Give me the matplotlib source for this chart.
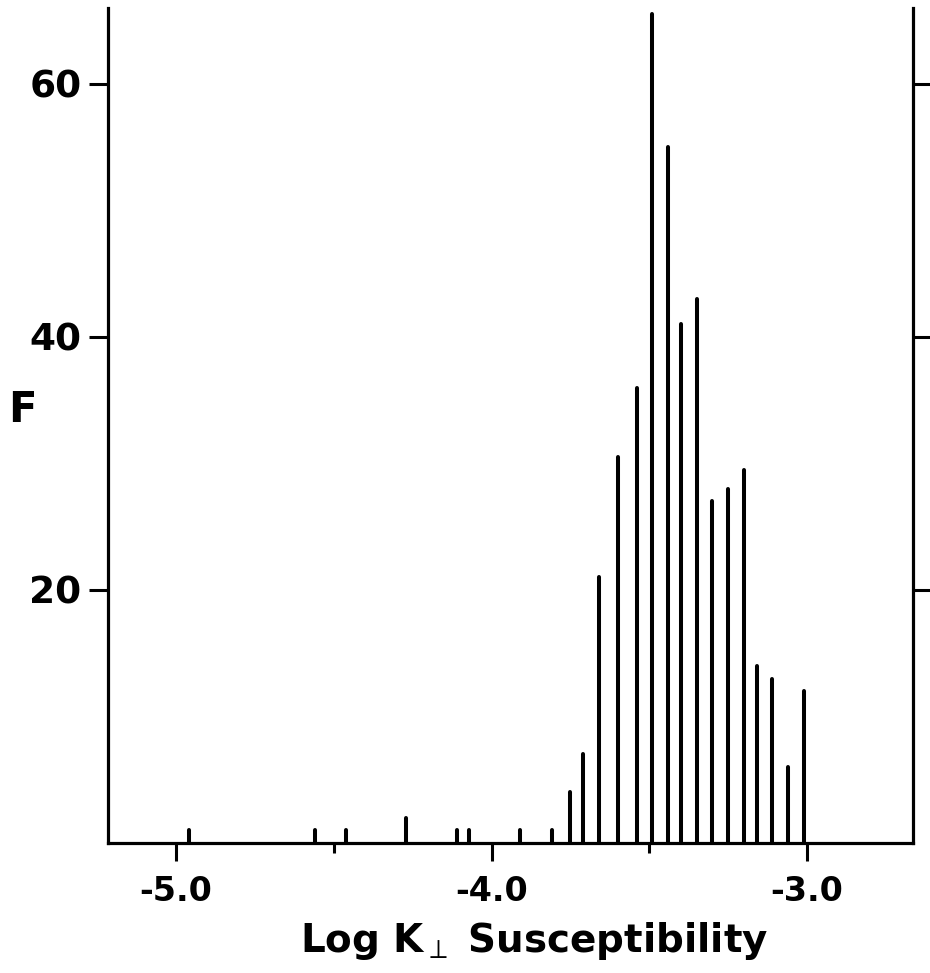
import matplotlib
matplotlib.use("Agg")
import matplotlib.pyplot as plt

# ---- data ----
log_k = [-4.96, -4.56, -4.46, -4.27, -4.11, -4.07, -3.91, -3.81, -3.75, -3.71,
         -3.66, -3.60, -3.54, -3.49, -3.44, -3.40, -3.35, -3.30, -3.25, -3.20,
         -3.16, -3.11, -3.06, -3.01]
freq = [1, 1, 1, 2, 1, 1, 1, 1, 4, 7,
        21, 30.5, 36, 65.5, 55, 41, 43, 27, 28, 29.5,
        14, 13, 6, 12]
x_major = [-5.0, -4.0, -3.0]
x_major_labels = ["-5.0", "-4.0", "-3.0"]
x_minor = [-4.5, -3.5]
y_ticks = [20, 40, 60]
y_tick_labels = ["20", "40", "60"]

plt.rcParams['font.family'] = ['DejaVu Sans']
plt.rcParams['mathtext.fontset'] = 'dejavusans'

fig = plt.figure(figsize=(9.3, 9.73), dpi=100)
ax = fig.add_axes([108/930, 130/973, (913-108)/930, (843-8)/973])

lc = ax.vlines(log_k, 0, freq, colors='black', linewidth=2.9, zorder=2)
lc.set_capstyle('round')

ax.set_xlim(-5.216, -2.664)
ax.set_ylim(0, 66)

for s in ['left', 'right', 'bottom']:
    ax.spines[s].set_linewidth(2.3)
    ax.spines[s].set_color('black')
    ax.spines[s].set_zorder(3)
ax.spines['top'].set_visible(False)

ax.set_xticks(x_major)
ax.set_xticklabels(x_major_labels, fontsize=24, fontweight='bold')
ax.set_xticks(x_minor, minor=True)
ax.tick_params(axis='x', which='major', direction='out', length=13, width=2.2, pad=10)
ax.tick_params(axis='x', which='minor', direction='out', length=7, width=2.2)

ax.set_yticks(y_ticks)
ax.set_yticklabels(y_tick_labels, fontsize=27, fontweight='bold')
ax.tick_params(axis='y', which='major', direction='out', left=True, right=True,
               labelleft=True, labelright=False, length=14, width=2.2, pad=5)
ax.yaxis.set_minor_locator(matplotlib.ticker.NullLocator())

ax.set_xlabel(r"Log K$_{\perp}$ Susceptibility", fontsize=28,
              fontweight='bold', labelpad=8)
ax.xaxis.set_label_coords(0.53, -0.092)

fig.text(22/930, 1 - 410/973, "F", fontsize=30, fontweight='bold',
         ha='center', va='center')

fig.savefig("out.png", dpi=100, facecolor='white')
